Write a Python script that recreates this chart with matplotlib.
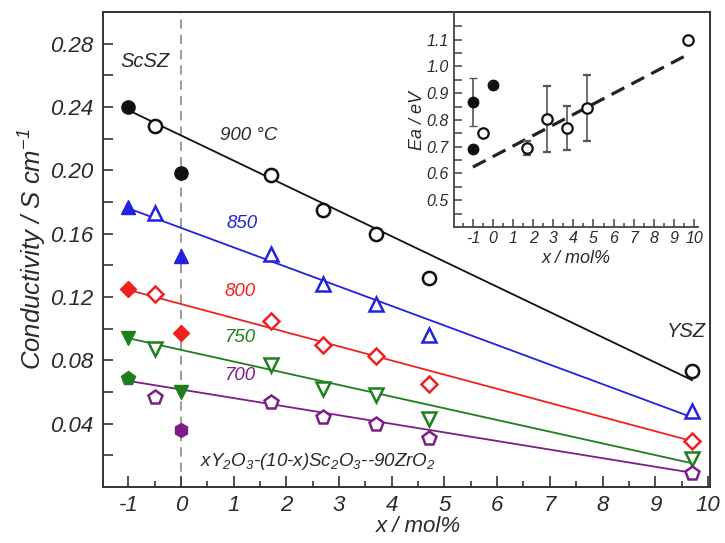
import matplotlib
matplotlib.use("Agg")
import matplotlib.pyplot as plt
from matplotlib.ticker import FixedLocator, FormatStrFormatter

plt.rcParams['font.family'] = ['Liberation Sans', 'DejaVu Sans']
plt.rcParams['font.style'] = 'italic'
plt.rcParams['mathtext.fontset'] = 'custom'
plt.rcParams['mathtext.rm'] = 'Liberation Sans:italic'
plt.rcParams['mathtext.it'] = 'Liberation Sans:italic'
plt.rcParams['axes.unicode_minus'] = False

# ---------------- data ----------------
x_filled = [-1, 0]
x_open = [-0.5, 1.7, 2.7, 3.7, 4.7, 9.7]
x_fit = [-1, 9.7]

s900_filled = [0.240, 0.198]
s900_open = [0.228, 0.197, 0.175, 0.160, 0.132, 0.073]
s900_fit = [0.238, 0.0675]

s850_filled = [0.177, 0.146]
s850_open = [0.173, 0.147, 0.128, 0.1155, 0.096, 0.048]
s850_fit = [0.176, 0.044]

s800_filled = [0.125, 0.097]
s800_open = [0.122, 0.105, 0.090, 0.083, 0.065, 0.029]
s800_fit = [0.1245, 0.029]

s750_filled = [0.094, 0.060]
s750_open = [0.087, 0.077, 0.062, 0.058, 0.043, 0.018]
s750_fit = [0.094, 0.015]

s700_filled = [0.069, 0.036]
s700_open = [0.057, 0.054, 0.044, 0.040, 0.031, 0.009]
s700_fit = [0.067, 0.009]

temp_labels = ['900 °C', '850', '800', '750', '700']

# inset: activation energy
ea_x_filled = [-1, -1, 0]
ea_filled = [0.868, 0.690, 0.930]
ea_filled_err = [0.09, 0.0, 0.0]
ea_x_open = [-0.5, 1.7, 2.7, 3.7, 4.7, 9.7]
ea_open = [0.752, 0.695, 0.804, 0.770, 0.845, 1.100]
ea_open_err = [0.0, 0.027, 0.122, 0.081, 0.122, 0.0]
ea_fit_x = [-1, 9.7]
ea_fit = [0.624, 1.045]

main_xticks = list(range(-1, 11))
main_yticks = [0.04, 0.08, 0.12, 0.16, 0.20, 0.24, 0.28]
inset_yticks = [0.5, 0.6, 0.7, 0.8, 0.9, 1.0, 1.1]

# ---------------- figure ----------------
fig = plt.figure(figsize=(7.25, 5.43), dpi=100)
ax = fig.add_axes([103/725, 1 - 487/543, (710-103)/725, (487-12)/543])

BLK = '#111111'
BLU = '#2222e0'
RED = '#f02020'
GRN = '#1e7f1e'
PUR = '#7d1d88'
TXT = '#2a2a2a'

ax.axvline(0, color='#808080', lw=1.1, ls=(0, (6, 4)), zorder=1)

series = [
    (s900_filled, s900_open, s900_fit, BLK, 'o', [BLK, BLK]),
    (s850_filled, s850_open, s850_fit, BLU, '^', [BLU, BLU]),
    (s800_filled, s800_open, s800_fit, RED, 'D', [RED, RED]),
    (s750_filled, s750_open, s750_fit, GRN, 'v', [GRN, GRN]),
    (s700_filled, s700_open, s700_fit, PUR, 'p', [GRN, PUR]),
]
filled_markers = {
    BLK: ['o', 'o'], BLU: ['^', '^'], RED: ['D', 'D'], GRN: ['v', 'v'], PUR: ['p', 'h'],
}
ms_map = {'o': 9.5, '^': 10.5, 'D': 8.5, 'v': 10.5, 'p': 10.5, 'h': 10}

for sf, so, sfit, col, mo, fcols in series:
    ax.plot(x_fit, sfit, '-', color=col, lw=1.3, zorder=2)
    ax.plot(x_open, so, ls='none', marker=mo, ms=ms_map[mo], mfc='white',
            mec=col, mew=1.8, zorder=3)
    for xi, yi, mk, fc in zip(x_filled, sf, filled_markers[col], fcols):
        ax.plot([xi], [yi], ls='none', marker=mk, ms=ms_map[mk], mfc=fc,
                mec=fc, mew=1.0, zorder=3)

ax.set_xlim(-1.48, 10.04)
ax.set_ylim(0.0, 0.30)
ax.xaxis.set_major_locator(FixedLocator(main_xticks))
ax.xaxis.set_minor_locator(FixedLocator([v + 0.5 for v in main_xticks[:-1]]))
ax.yaxis.set_major_locator(FixedLocator(main_yticks))
ax.yaxis.set_minor_locator(FixedLocator([0.02, 0.06, 0.10, 0.14, 0.18, 0.22, 0.26]))
ax.yaxis.set_major_formatter(FormatStrFormatter('%.2f'))
ax.tick_params(axis='both', which='both', direction='in', top=False, right=False,
               colors='#333333', labelcolor=TXT, labelsize=16, width=1.2)
ax.tick_params(axis='x', which='major', length=8, pad=6)
ax.tick_params(axis='x', which='minor', length=4)
ax.tick_params(axis='y', which='major', length=7, pad=7)
ax.tick_params(axis='y', which='minor', length=7)
for sp in ax.spines.values():
    sp.set_color('#333333')
    sp.set_linewidth(1.4)

ax.set_xlabel('x / mol%', fontsize=16, color=TXT, labelpad=0)
ax.xaxis.set_label_coords(0.52, -0.062)
ax.set_ylabel('Conductivity / S cm$^{-1}$', fontsize=18.5, color=TXT, labelpad=1)

ax.text(-0.68, 0.269, 'ScSZ', fontsize=14.5, color=TXT, ha='center', va='center')
ax.text(1.29, 0.222, temp_labels[0], fontsize=13.5, color=TXT, ha='center', va='center')
ax.text(1.16, 0.1666, temp_labels[1], fontsize=13.5, color=BLU, ha='center', va='center')
ax.text(1.12, 0.1237, temp_labels[2], fontsize=13.5, color=RED, ha='center', va='center')
ax.text(1.12, 0.0946, temp_labels[3], fontsize=13.5, color=GRN, ha='center', va='center')
ax.text(1.12, 0.0707, temp_labels[4], fontsize=13.5, color=PUR, ha='center', va='center')
ax.text(9.6, 0.0984, 'YSZ', fontsize=14.5, color=TXT, ha='center', va='center')
ax.text(0.36, 0.0158, 'xY$_2$O$_3$-(10-x)Sc$_2$O$_3$--90ZrO$_2$', fontsize=13.5,
        color=TXT, ha='left', va='center')

# ---------------- inset ----------------
ia = fig.add_axes([454/725, 1 - 227/543, (698-454)/725, (227-13)/543])
ia.patch.set_alpha(0)
ia.spines['top'].set_visible(False)
ia.spines['right'].set_visible(False)
for s in ['left', 'bottom']:
    ia.spines[s].set_color('#444444')
    ia.spines[s].set_linewidth(1.3)

ia.plot(ea_fit_x, ea_fit, color='#222222', lw=2.3, ls=(0, (4.5, 2.5)), zorder=2)
ia.errorbar(ea_x_open, ea_open, yerr=ea_open_err, fmt='o', ms=7.5, mfc='white',
            mec='#111111', mew=1.6, ecolor='#555555', elinewidth=1.2, capsize=3,
            zorder=3)
ia.errorbar(ea_x_filled, ea_filled, yerr=ea_filled_err, fmt='o', ms=7.5, mfc='#111111',
            mec='#111111', mew=1.0, ecolor='#555555', elinewidth=1.2, capsize=3,
            zorder=3)
ia.set_xlim(-1.94, 10.2)
ia.set_ylim(0.4, 1.2)
ia.xaxis.set_major_locator(FixedLocator(main_xticks))
ia.xaxis.set_minor_locator(FixedLocator([v - 0.5 for v in main_xticks]))
ia.yaxis.set_major_locator(FixedLocator(inset_yticks))
ia.yaxis.set_minor_locator(FixedLocator([0.45, 0.55, 0.65, 0.75, 0.85, 0.95, 1.05, 1.15]))
ia.yaxis.set_major_formatter(FormatStrFormatter('%.1f'))
ia.tick_params(axis='both', which='both', direction='in', colors='#444444',
               labelcolor=TXT, labelsize=11.5, width=1.1)
ia.tick_params(axis='x', which='major', length=6, pad=3)
ia.tick_params(axis='x', which='minor', length=3)
ia.tick_params(axis='y', which='both', length=6, pad=4)
ia.set_xlabel('x / mol%', fontsize=13, color=TXT, labelpad=3)
ia.set_ylabel('Ea / eV', fontsize=13, color=TXT, labelpad=0)

fig.savefig('out.png', dpi=100)
